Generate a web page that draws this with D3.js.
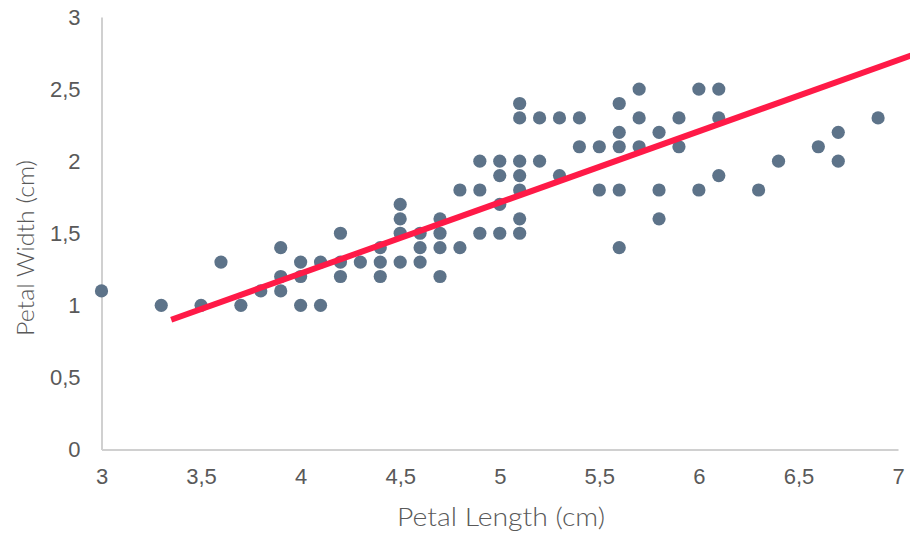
<!DOCTYPE html>
<html>
<head>
<meta charset="utf-8">
<script src="https://cdn.jsdelivr.net/npm/d3@7"></script>
<style>
  body { margin: 0; background: #fff; }
</style>
</head>
<body>
<script>
var petalLength = [3.0, 3.3, 3.5, 3.6, 3.7, 3.8,
  3.9, 3.9, 3.9, 4.0, 4.0, 4.0, 4.1, 4.1, 4.2, 4.2, 4.2, 4.3,
  4.4, 4.4, 4.4, 4.5, 4.5, 4.5, 4.5, 4.6, 4.6, 4.6,
  4.7, 4.7, 4.7, 4.7, 4.8, 4.8, 4.9, 4.9, 4.9,
  5.0, 5.0, 5.0, 5.0, 5.1, 5.1, 5.1, 5.1, 5.1, 5.1, 5.1,
  5.2, 5.2, 5.3, 5.3, 5.4, 5.4, 5.5, 5.5,
  5.6, 5.6, 5.6, 5.6, 5.6, 5.7, 5.7, 5.7, 5.8, 5.8, 5.8,
  5.9, 5.9, 6.0, 6.0, 6.1, 6.1, 6.1, 6.3, 6.4, 6.6, 6.7, 6.7, 6.9];
var petalWidth = [1.1, 1.0, 1.0, 1.3, 1.0, 1.1,
  1.4, 1.2, 1.1, 1.3, 1.2, 1.0, 1.3, 1.0, 1.5, 1.3, 1.2, 1.3,
  1.4, 1.3, 1.2, 1.7, 1.6, 1.5, 1.3, 1.5, 1.4, 1.3,
  1.6, 1.5, 1.4, 1.2, 1.8, 1.4, 2.0, 1.8, 1.5,
  2.0, 1.9, 1.7, 1.5, 2.4, 2.3, 2.0, 1.9, 1.8, 1.6, 1.5,
  2.3, 2.0, 2.3, 1.9, 2.3, 2.1, 2.1, 1.8,
  2.4, 2.2, 2.1, 1.8, 1.4, 2.5, 2.3, 2.1, 2.2, 1.8, 1.6,
  2.3, 2.1, 2.5, 1.8, 2.5, 2.3, 1.9, 1.8, 2.0, 2.1, 2.2, 2.0, 2.3];

// trend line ends
var trendLength = [3.35, 7.1];
var trendWidth = [0.9, 2.75];

var xTicks = [3, 3.5, 4, 4.5, 5, 5.5, 6, 6.5, 7];
var xTickLabels = ["3", "3,5", "4", "4,5", "5", "5,5", "6", "6,5", "7"];
var yTicks = [0, 0.5, 1, 1.5, 2, 2.5, 3];
var yTickLabels = ["0", "0,5", "1", "1,5", "2", "2,5", "3"];

var width = 910, height = 533;

var svg = d3.select("body").append("svg")
    .attr("width", width)
    .attr("height", height);

var x = d3.scaleLinear().domain([3, 7]).range([101.5, 898]);
var y = d3.scaleLinear().domain([0, 3]).range([449.5, 17]);

// axes, only the baseline lines no ticks
var xAxis = svg.append("g")
    .attr("transform", "translate(0," + y(0) + ")")
    .call(d3.axisBottom(x).tickValues(xTicks)
        .tickFormat(function (d, i) { return xTickLabels[i]; })
        .tickSize(0).tickPadding(19));
xAxis.select(".domain").attr("stroke", "#d0d0d0").attr("stroke-width", 2);
xAxis.selectAll("text")
    .attr("fill", "#595959")
    .style("font-family", "'Liberation Sans', Arial, sans-serif")
    .style("font-size", "22px");

var yAxis = svg.append("g")
    .attr("transform", "translate(" + x(3) + ",0)")
    .call(d3.axisLeft(y).tickValues(yTicks)
        .tickFormat(function (d, i) { return yTickLabels[i]; })
        .tickSize(0).tickPadding(21));
yAxis.select(".domain").attr("stroke", "#d0d0d0").attr("stroke-width", 2);
yAxis.selectAll("text")
    .attr("fill", "#595959")
    .style("font-family", "'Liberation Sans', Arial, sans-serif")
    .style("font-size", "22px");

// scatter points
var pts = petalLength.map(function (d, i) { return [d, petalWidth[i]]; });
svg.selectAll("circle.pt")
    .data(pts)
    .enter().append("circle")
    .attr("class", "pt")
    .attr("fill", "#5d7389")
    .attr("cx", function (d) { return x(d[0]); })
    .attr("cy", function (d) { return y(d[1]); })
    .attr("r", 6.6);

// trend line drawn on top
svg.append("line")
    .attr("x1", x(trendLength[0]))
    .attr("y1", y(trendWidth[0]))
    .attr("x2", x(trendLength[1]))
    .attr("y2", y(trendWidth[1]))
    .attr("stroke", "#ff1a47")
    .attr("stroke-width", 6);

// axis titles - stretched a bit to match the original width
svg.append("text")
    .attr("x", 501)
    .attr("y", 526)
    .attr("text-anchor", "middle")
    .attr("fill", "#595959")
    .attr("textLength", 208)
    .attr("lengthAdjust", "spacingAndGlyphs")
    .style("font-family", "Lato, sans-serif")
    .style("font-weight", 300)
    .style("font-size", "25px")
    .text("Petal Length (cm)");

svg.append("text")
    .attr("transform", "translate(34,248) rotate(-90)")
    .attr("text-anchor", "middle")
    .attr("fill", "#595959")
    .attr("textLength", 176)
    .attr("lengthAdjust", "spacingAndGlyphs")
    .style("font-family", "Lato, sans-serif")
    .style("font-weight", 300)
    .style("font-size", "24px")
    .text("Petal Width (cm)");
</script>
</body>
</html>
